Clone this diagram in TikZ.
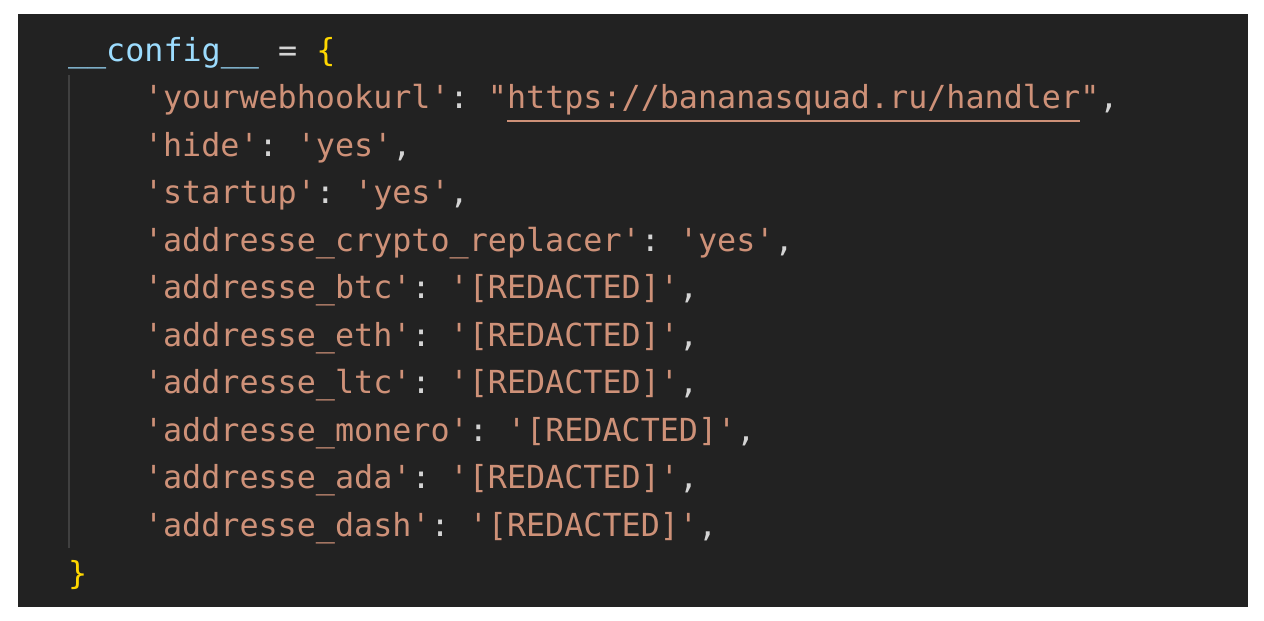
\documentclass[tikz,border=0pt]{standalone}
\usepackage{fontspec}
\setmonofont{DejaVu Sans Mono}
\usetikzlibrary{positioning}
\definecolor{editorbg}{RGB}{34,34,34}
\definecolor{codestr}{RGB}{206,145,120}
\definecolor{codepunc}{RGB}{212,212,212}
\definecolor{codevar}{RGB}{156,220,254}
\definecolor{codebrace}{RGB}{255,215,0}
\definecolor{guide}{RGB}{64,64,64}
\newcommand{\strtxt}[1]{\textcolor{codestr}{#1}}
\newcommand{\punctxt}[1]{\textcolor{codepunc}{#1}}
\tikzset
{
    codeline/.style = {anchor=base west, inner sep=0pt, outer sep=0pt, font=\ttfamily\fontsize{9.03pt}{11pt}\selectfont, text=codepunc},
    urlline/.style  = {draw=codestr, line width=0.45pt},
    indentguide/.style = {draw=guide, line width=0.57pt}
}

\begin{document}
\begin{tikzpicture}[x=0.1mm, y=-0.1mm]
\useasboundingbox[fill=white] (0,0) rectangle (1264,621);
\fill[editorbg] (18,14) rectangle (1248,607);
\draw[indentguide] (69,75) -- (69,548);
\node[codeline] (head) at (68,61.5) {\textcolor{codevar}{\_\_config\_\_} = \textcolor{codebrace}{\{}};
\node[codeline] (hook) at (144,109) {\strtxt{'yourwebhookurl'}: \strtxt{"}};
\node[codeline, anchor=base west] (url) at (hook.base east) {\strtxt{https://bananasquad.ru/handler}};
\node[codeline, anchor=base west] (hooktail) at (url.base east) {\strtxt{"},};
\draw[urlline] ([yshift=-3.4pt]url.base west) -- ([yshift=-3.4pt]url.base east);
\node[codeline] (hide) at (144,156.5) {\strtxt{'hide'}: \strtxt{'yes'},};
\node[codeline] (startup) at (144,204) {\strtxt{'startup'}: \strtxt{'yes'},};
\node[codeline] (replacer) at (144,251.5) {\strtxt{'addresse\_crypto\_replacer'}: \strtxt{'yes'},};
\node[codeline] (btc) at (144,299) {\strtxt{'addresse\_btc'}: \strtxt{'[REDACTED]'},};
\node[codeline] (eth) at (144,346.5) {\strtxt{'addresse\_eth'}: \strtxt{'[REDACTED]'},};
\node[codeline] (ltc) at (144,394) {\strtxt{'addresse\_ltc'}: \strtxt{'[REDACTED]'},};
\node[codeline] (monero) at (144,441.5) {\strtxt{'addresse\_monero'}: \strtxt{'[REDACTED]'},};
\node[codeline] (ada) at (144,489) {\strtxt{'addresse\_ada'}: \strtxt{'[REDACTED]'},};
\node[codeline] (dash) at (144,536.5) {\strtxt{'addresse\_dash'}: \strtxt{'[REDACTED]'},};
\node[codeline] (tail) at (68,584) {\textcolor{codebrace}{\}}};
\end{tikzpicture}
\end{document}
